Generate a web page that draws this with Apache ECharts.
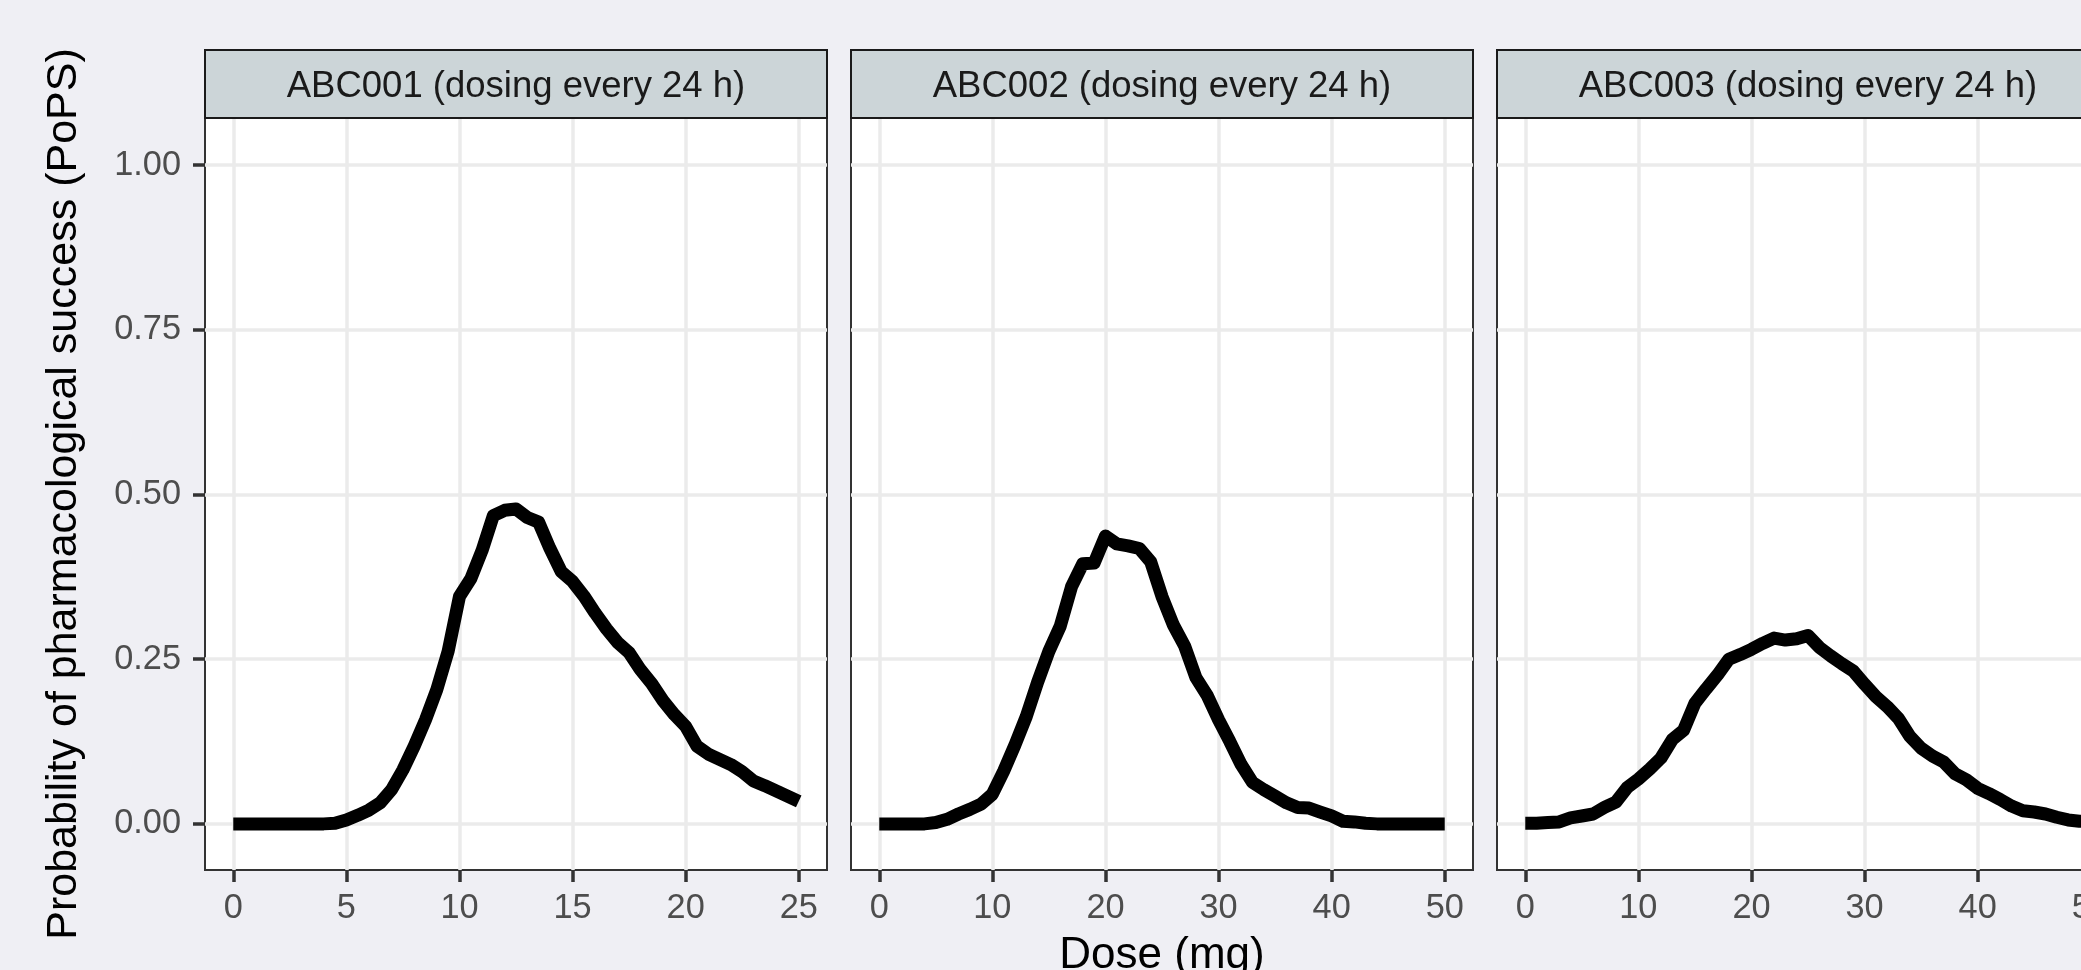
<!DOCTYPE html>
<html>
<head>
<meta charset="utf-8">
<title>PoPS by dose</title>
<script src="https://cdn.jsdelivr.net/npm/echarts@6/dist/echarts.min.js"></script>
<style>
  html, body { margin: 0; padding: 0; background: #efeff4; }
  #chart { width: 2081px; height: 970px; }
</style>
</head>
<body>
<div id="chart"></div>
<script>
// facet titles
const panelTitles = [
  'ABC001 (dosing every 24 h)',
  'ABC002 (dosing every 24 h)',
  'ABC003 (dosing every 24 h)'
];

// ABC001: dose 0-25 mg
const doseABC001 = [0, 0.5, 1, 1.5, 2, 2.5, 3, 3.5, 4, 4.5, 5, 5.5, 6, 6.5, 7, 7.5, 8, 8.5, 9, 9.5,
  10, 10.5, 11, 11.5, 12, 12.5, 13, 13.5, 14, 14.5, 15, 15.5, 16, 16.5, 17, 17.5, 18, 18.5, 19, 19.5,
  20, 20.5, 21, 21.5, 22, 22.5, 23, 23.5, 24, 24.5, 25];
const popsABC001 = [0, 0, 0, 0, 0, 0, 0, 0, 0, 0.001, 0.006, 0.013, 0.021, 0.032, 0.052, 0.082, 0.118, 0.158, 0.204, 0.262,
  0.345, 0.372, 0.415, 0.468, 0.476, 0.478, 0.465, 0.458, 0.418, 0.383, 0.368, 0.346, 0.32, 0.296, 0.275, 0.26, 0.234, 0.213, 0.187, 0.166,
  0.148, 0.118, 0.106, 0.098, 0.09, 0.079, 0.065, 0.058, 0.05, 0.042, 0.034];

// ABC002: dose 0-50 mg
const doseABC002 = [0, 1, 2, 3, 4, 5, 6, 7, 8, 9, 10, 11, 12, 13, 14, 15, 16, 17, 18, 19,
  20, 21, 22, 23, 24, 25, 26, 27, 28, 29, 30, 31, 32, 33, 34, 35, 36, 37, 38, 39,
  40, 41, 42, 43, 44, 45, 46, 47, 48, 49, 50];
const popsABC002 = [0, 0, 0, 0, 0, 0.002, 0.007, 0.015, 0.022, 0.03, 0.045, 0.08, 0.12, 0.163, 0.215, 0.262, 0.3, 0.36, 0.395, 0.396,
  0.437, 0.425, 0.422, 0.418, 0.398, 0.345, 0.302, 0.27, 0.222, 0.195, 0.158, 0.125, 0.09, 0.063, 0.052, 0.042, 0.032, 0.025, 0.024, 0.018,
  0.012, 0.004, 0.003, 0.001, 0, 0, 0, 0, 0, 0, 0];

// ABC003: dose 0-50 mg
const doseABC003 = [0, 1, 2, 3, 4, 5, 6, 7, 8, 9, 10, 11, 12, 13, 14, 15, 16, 17, 18, 19,
  20, 21, 22, 23, 24, 25, 26, 27, 28, 29, 30, 31, 32, 33, 34, 35, 36, 37, 38, 39,
  40, 41, 42, 43, 44, 45, 46, 47, 48, 49, 50];
const popsABC003 = [0.001, 0.001, 0.002, 0.003, 0.009, 0.012, 0.015, 0.025, 0.033, 0.055, 0.068, 0.083, 0.1, 0.128, 0.142, 0.183, 0.205, 0.226, 0.25, 0.257,
  0.265, 0.274, 0.282, 0.279, 0.281, 0.286, 0.268, 0.255, 0.243, 0.232, 0.212, 0.193, 0.178, 0.16, 0.133, 0.115, 0.103, 0.094, 0.076, 0.067,
  0.054, 0.046, 0.037, 0.027, 0.02, 0.018, 0.015, 0.01, 0.006, 0.004, 0.004];

// axis ticks
const xTicksShort = [0, 5, 10, 15, 20, 25];
const xTicksLong = [0, 10, 20, 30, 40, 50];
const yTicks = [0, 0.25, 0.5, 0.75, 1];

const doses = [doseABC001, doseABC002, doseABC003];
const pops = [popsABC001, popsABC002, popsABC003];
const xTicks = [xTicksShort, xTicksLong, xTicksLong];
const xRanges = [[-1.25, 26.25], [-2.5, 52.5], [-2.5, 52.5]];

// layout (px)
const FONT = '"Liberation Sans", Arial, Helvetica, sans-serif';
const panelLeft = [205, 851, 1497];
const panelW = 622;
const panelTop = 118;
const panelH = 752;
const stripTop = 50;

const chart = echarts.init(document.getElementById('chart'));

const option = {
  backgroundColor: '#efeff4',
  animation: false,
  grid: panelLeft.map(left => ({
    left: left,
    top: panelTop,
    width: panelW,
    height: panelH,
    show: true,
    backgroundColor: '#ffffff',
    borderColor: '#333333',
    borderWidth: 2,
    containLabel: false,
    outerBoundsMode: 'none'
  })),
  xAxis: panelLeft.map((_, i) => ({
    type: 'value',
    gridIndex: i,
    position: 'bottom',
    min: xRanges[i][0],
    max: xRanges[i][1],
    axisLine: { show: false, onZero: false },
    axisTick: {
      show: true,
      length: 12,
      customValues: xTicks[i],
      lineStyle: { color: '#333333', width: 3.5 }
    },
    axisLabel: {
      customValues: xTicks[i],
      margin: 22,
      color: '#4d4d4d',
      fontSize: 34.3,
      fontFamily: FONT
    },
    splitLine: { show: true, lineStyle: { color: '#ebebeb', width: 3.5 } }
  })),
  yAxis: panelLeft.map((_, i) => ({
    type: 'value',
    gridIndex: i,
    position: 'left',
    min: -0.07,
    max: 1.0714,
    axisLine: { show: false, onZero: false },
    axisTick: {
      show: i === 0,
      length: 12,
      customValues: yTicks,
      lineStyle: { color: '#333333', width: 3.5 }
    },
    axisLabel: {
      show: i === 0,
      customValues: yTicks,
      margin: 24,
      color: '#4d4d4d',
      fontSize: 34.3,
      fontFamily: FONT,
      formatter: v => v.toFixed(2)
    },
    splitLine: { show: true, lineStyle: { color: '#ebebeb', width: 3.5 } }
  })),
  series: doses.map((d, i) => ({
    type: 'line',
    xAxisIndex: i,
    yAxisIndex: i,
    symbol: 'none',
    silent: true,
    data: d.map((x, k) => [x, pops[i][k]]),
    lineStyle: { color: '#000000', width: 13, cap: 'butt', join: 'round' }
  })),
  graphic: [
    // facet strips
    ...panelLeft.map(left => ({
      type: 'rect',
      z: 10,
      shape: { x: left, y: stripTop, width: panelW, height: panelTop - stripTop },
      style: { fill: '#ccd5d8', stroke: '#1a1a1a', lineWidth: 2 }
    })),
    ...panelLeft.map((left, i) => ({
      type: 'text',
      z: 11,
      x: left + panelW / 2,
      y: 87,
      style: {
        text: panelTitles[i],
        fill: '#1a1a1a',
        font: '36.5px ' + FONT,
        align: 'center', textAlign: 'center',
        verticalAlign: 'middle', textVerticalAlign: 'middle'
      }
    })),
    // axis titles
    {
      type: 'text',
      z: 11,
      x: 64,
      y: 494,
      rotation: Math.PI / 2,
      style: {
        text: 'Probability of pharmacological success (PoPS)',
        fill: '#000000',
        font: '43px ' + FONT,
        align: 'center', textAlign: 'center',
        verticalAlign: 'middle', textVerticalAlign: 'middle'
      }
    },
    {
      type: 'text',
      z: 11,
      x: (panelLeft[0] + panelLeft[2] + panelW) / 2,
      y: 956,
      style: {
        text: 'Dose (mg)',
        fill: '#000000',
        font: '44px ' + FONT,
        align: 'center', textAlign: 'center',
        verticalAlign: 'middle', textVerticalAlign: 'middle'
      }
    }
  ]
};

chart.setOption(option);
window.addEventListener('resize', () => chart.resize());
</script>
</body>
</html>
